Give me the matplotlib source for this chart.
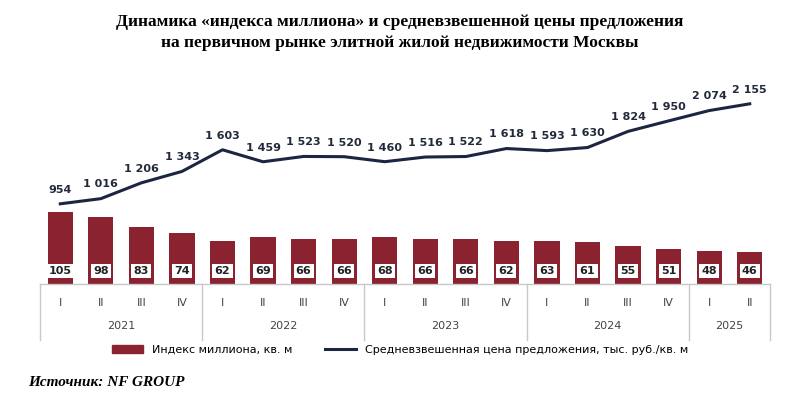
import matplotlib.pyplot as plt
from matplotlib.patches import Rectangle
from matplotlib.lines import Line2D

quarters = ["I", "II", "III", "IV"] * 4 + ["I", "II"]
years = ["2021", "2022", "2023", "2024", "2025"]
year_sizes = [4, 4, 4, 4, 2]
index_mln = [105, 98, 83, 74, 62, 69, 66, 66, 68, 66, 66, 62, 63, 61, 55, 51, 48, 46]
price = [954, 1016, 1206, 1343, 1603, 1459, 1523, 1520, 1460, 1516, 1522, 1618,
         1593, 1630, 1824, 1950, 2074, 2155]

bar_color = "#8a2230"
line_color = "#1c2541"
grid_color = "#c8c8c8"

fig = plt.figure(figsize=(8, 4), dpi=100)
ax = fig.add_axes([0.05, 0.29, 0.9125, 0.485])
x = list(range(len(index_mln)))

ax.bar(x, index_mln, width=0.62, color=bar_color)
ax.set_ylim(0, 283)
ax.set_xlim(-0.5, len(x) - 0.5)
for i, v in enumerate(index_mln):
    ax.text(i, 19, str(v), ha="center", va="center", fontsize=8, fontweight="bold",
            color="#222222", bbox=dict(facecolor="white", edgecolor="none", pad=1.6))
ax.axis("off")

ax2 = ax.twinx()
ax2.plot(x, price, color=line_color, lw=2.2)
ax2.set_ylim(-9, 2321)
ax2.set_xlim(-0.5, len(x) - 0.5)
for i, v in enumerate(price):
    lab = f"{v:,}".replace(",", " ")
    ax2.text(i, v + 110, lab, ha="center", va="bottom", fontsize=8, fontweight="bold",
             color="#222a3a")
ax2.axis("off")

# category axis below
tr = ax.get_xaxis_transform()
ax.plot([-0.5, len(x) - 0.5], [0, 0], color=grid_color, lw=1, transform=tr, clip_on=False)
for i, q in enumerate(quarters):
    ax.text(i, -0.1, q, ha="center", va="center", fontsize=8, color="#444444",
            transform=tr, clip_on=False)
start = -0.5
ax.plot([start, start], [0, -0.29], color=grid_color, lw=1, transform=tr, clip_on=False)
for y, n in zip(years, year_sizes):
    ax.text(start + n / 2, -0.215, y, ha="center", va="center", fontsize=8,
            color="#444444", transform=tr, clip_on=False)
    start += n
    ax.plot([start, start], [0, -0.29], color=grid_color, lw=1, transform=tr, clip_on=False)

handles = [Rectangle((0, 0), 1, 1, color=bar_color),
           Line2D([0], [0], color=line_color, lw=2.2)]
fig.legend(handles, ["Индекс миллиона, кв. м",
                     "Средневзвешенная цена предложения, тыс. руб./кв. м"],
           loc="center", bbox_to_anchor=(0.5, 0.125), ncol=2, frameon=False,
           fontsize=8, handlelength=2.8, columnspacing=3)

fig.text(0.5, 0.945, "Динамика «индекса миллиона» и средневзвешенной цены предложения",
         ha="center", va="center", fontsize=12.5, fontweight="bold", family="Liberation Serif")
fig.text(0.5, 0.893, "на первичном рынке элитной жилой недвижимости Москвы",
         ha="center", va="center", fontsize=12.5, fontweight="bold", family="Liberation Serif")
fig.text(0.035, 0.043, "Источник: NF GROUP", ha="left", va="center", fontsize=11,
         fontweight="bold", style="italic", family="Liberation Serif")

fig.savefig("out.png", dpi=100)
